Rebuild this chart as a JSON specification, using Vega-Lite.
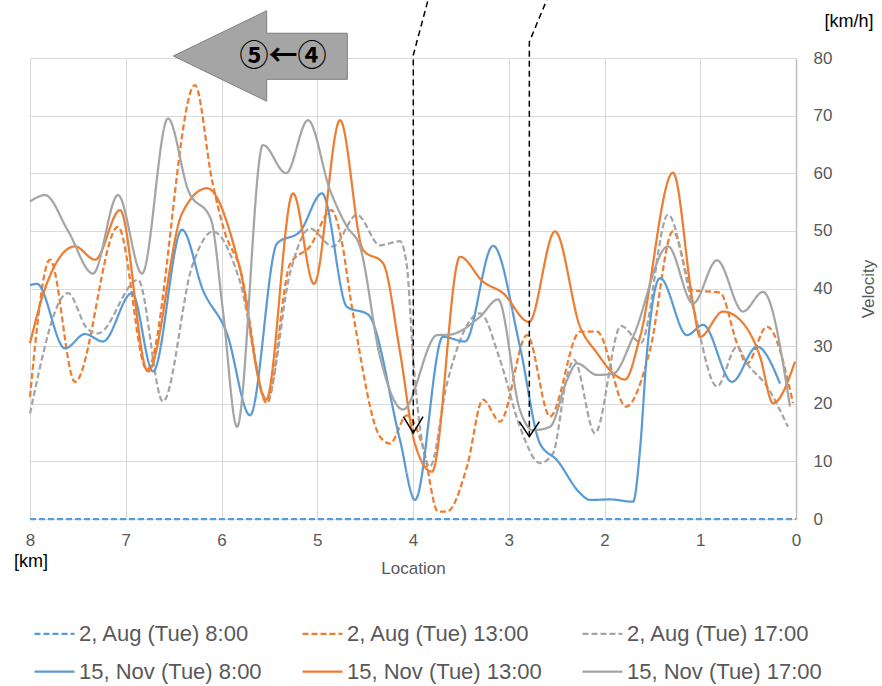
{
  "$schema": "https://vega.github.io/schema/vega-lite/v6.json",
  "width": 766,
  "height": 461,
  "autosize": "none",
  "padding": {"left": 30, "top": 58, "right": 86, "bottom": 167},
  "background": "white",
  "config": {"view": {"stroke": null}, "font": "Liberation Sans"},
  "datasets": {
    "series": [
      {"s": "2, Aug (Tue) 8:00", "x": 8.0, "v": 0},
      {"s": "2, Aug (Tue) 8:00", "x": 0.0, "v": 0},

      {"s": "2, Aug (Tue) 13:00", "x": 8.0, "v": 21.2},
      {"s": "2, Aug (Tue) 13:00", "x": 7.791, "v": 45.0},
      {"s": "2, Aug (Tue) 13:00", "x": 7.53, "v": 23.8},
      {"s": "2, Aug (Tue) 13:00", "x": 7.081, "v": 50.7},
      {"s": "2, Aug (Tue) 13:00", "x": 6.778, "v": 25.9},
      {"s": "2, Aug (Tue) 13:00", "x": 6.277, "v": 75.3},
      {"s": "2, Aug (Tue) 13:00", "x": 6.099, "v": 58.8},
      {"s": "2, Aug (Tue) 13:00", "x": 5.963, "v": 49.6},
      {"s": "2, Aug (Tue) 13:00", "x": 5.812, "v": 43.8},
      {"s": "2, Aug (Tue) 13:00", "x": 5.525, "v": 20.1},
      {"s": "2, Aug (Tue) 13:00", "x": 5.285, "v": 44.2},
      {"s": "2, Aug (Tue) 13:00", "x": 5.076, "v": 47.3},
      {"s": "2, Aug (Tue) 13:00", "x": 4.85, "v": 53.6},
      {"s": "2, Aug (Tue) 13:00", "x": 4.762, "v": 49.6},
      {"s": "2, Aug (Tue) 13:00", "x": 4.627, "v": 35.7},
      {"s": "2, Aug (Tue) 13:00", "x": 4.345, "v": 14.3},
      {"s": "2, Aug (Tue) 13:00", "x": 4.24, "v": 13.1},
      {"s": "2, Aug (Tue) 13:00", "x": 4.063, "v": 18.0},
      {"s": "2, Aug (Tue) 13:00", "x": 3.896, "v": 12.5},
      {"s": "2, Aug (Tue) 13:00", "x": 3.739, "v": 1.3},
      {"s": "2, Aug (Tue) 13:00", "x": 3.645, "v": 1.3},
      {"s": "2, Aug (Tue) 13:00", "x": 3.436, "v": 9.1},
      {"s": "2, Aug (Tue) 13:00", "x": 3.269, "v": 20.7},
      {"s": "2, Aug (Tue) 13:00", "x": 3.091, "v": 16.9},
      {"s": "2, Aug (Tue) 13:00", "x": 2.809, "v": 31.9},
      {"s": "2, Aug (Tue) 13:00", "x": 2.569, "v": 17.8},
      {"s": "2, Aug (Tue) 13:00", "x": 2.256, "v": 32.5},
      {"s": "2, Aug (Tue) 13:00", "x": 2.078, "v": 32.5},
      {"s": "2, Aug (Tue) 13:00", "x": 1.775, "v": 19.5},
      {"s": "2, Aug (Tue) 13:00", "x": 1.525, "v": 29.3},
      {"s": "2, Aug (Tue) 13:00", "x": 1.285, "v": 49.9},
      {"s": "2, Aug (Tue) 13:00", "x": 1.076, "v": 39.7},
      {"s": "2, Aug (Tue) 13:00", "x": 0.794, "v": 39.3},
      {"s": "2, Aug (Tue) 13:00", "x": 0.616, "v": 30.5},
      {"s": "2, Aug (Tue) 13:00", "x": 0.512, "v": 27.0},
      {"s": "2, Aug (Tue) 13:00", "x": 0.303, "v": 33.4},
      {"s": "2, Aug (Tue) 13:00", "x": 0.031, "v": 20.1},

      {"s": "2, Aug (Tue) 17:00", "x": 8.0, "v": 18.3},
      {"s": "2, Aug (Tue) 17:00", "x": 7.603, "v": 39.2},
      {"s": "2, Aug (Tue) 17:00", "x": 7.405, "v": 33.1},
      {"s": "2, Aug (Tue) 17:00", "x": 7.29, "v": 32.2},
      {"s": "2, Aug (Tue) 17:00", "x": 6.872, "v": 41.5},
      {"s": "2, Aug (Tue) 17:00", "x": 6.611, "v": 20.4},
      {"s": "2, Aug (Tue) 17:00", "x": 6.308, "v": 43.8},
      {"s": "2, Aug (Tue) 17:00", "x": 6.089, "v": 49.9},
      {"s": "2, Aug (Tue) 17:00", "x": 5.812, "v": 41.5},
      {"s": "2, Aug (Tue) 17:00", "x": 5.525, "v": 20.7},
      {"s": "2, Aug (Tue) 17:00", "x": 5.285, "v": 42.6},
      {"s": "2, Aug (Tue) 17:00", "x": 5.076, "v": 50.4},
      {"s": "2, Aug (Tue) 17:00", "x": 4.836, "v": 47.3},
      {"s": "2, Aug (Tue) 17:00", "x": 4.585, "v": 52.8},
      {"s": "2, Aug (Tue) 17:00", "x": 4.345, "v": 47.5},
      {"s": "2, Aug (Tue) 17:00", "x": 4.136, "v": 48.2},
      {"s": "2, Aug (Tue) 17:00", "x": 4.063, "v": 43.8},
      {"s": "2, Aug (Tue) 17:00", "x": 4.0, "v": 28.2},
      {"s": "2, Aug (Tue) 17:00", "x": 3.823, "v": 9.1},
      {"s": "2, Aug (Tue) 17:00", "x": 3.645, "v": 23.5},
      {"s": "2, Aug (Tue) 17:00", "x": 3.3, "v": 35.7},
      {"s": "2, Aug (Tue) 17:00", "x": 3.091, "v": 27.6},
      {"s": "2, Aug (Tue) 17:00", "x": 2.883, "v": 16.0},
      {"s": "2, Aug (Tue) 17:00", "x": 2.674, "v": 9.7},
      {"s": "2, Aug (Tue) 17:00", "x": 2.538, "v": 11.4},
      {"s": "2, Aug (Tue) 17:00", "x": 2.392, "v": 24.7},
      {"s": "2, Aug (Tue) 17:00", "x": 2.319, "v": 27.6},
      {"s": "2, Aug (Tue) 17:00", "x": 2.099, "v": 14.9},
      {"s": "2, Aug (Tue) 17:00", "x": 1.828, "v": 33.5},
      {"s": "2, Aug (Tue) 17:00", "x": 1.619, "v": 30.6},
      {"s": "2, Aug (Tue) 17:00", "x": 1.337, "v": 52.8},
      {"s": "2, Aug (Tue) 17:00", "x": 1.076, "v": 36.8},
      {"s": "2, Aug (Tue) 17:00", "x": 0.825, "v": 23.0},
      {"s": "2, Aug (Tue) 17:00", "x": 0.616, "v": 29.9},
      {"s": "2, Aug (Tue) 17:00", "x": 0.512, "v": 27.0},
      {"s": "2, Aug (Tue) 17:00", "x": 0.303, "v": 23.0},
      {"s": "2, Aug (Tue) 17:00", "x": 0.084, "v": 16.0},

      {"s": "15, Nov (Tue) 8:00", "x": 8.0, "v": 40.6},
      {"s": "15, Nov (Tue) 8:00", "x": 7.927, "v": 40.8},
      {"s": "15, Nov (Tue) 8:00", "x": 7.634, "v": 29.6},
      {"s": "15, Nov (Tue) 8:00", "x": 7.426, "v": 32.1},
      {"s": "15, Nov (Tue) 8:00", "x": 7.238, "v": 30.8},
      {"s": "15, Nov (Tue) 8:00", "x": 6.935, "v": 39.2},
      {"s": "15, Nov (Tue) 8:00", "x": 6.715, "v": 25.6},
      {"s": "15, Nov (Tue) 8:00", "x": 6.413, "v": 50.2},
      {"s": "15, Nov (Tue) 8:00", "x": 6.193, "v": 39.7},
      {"s": "15, Nov (Tue) 8:00", "x": 5.943, "v": 32.2},
      {"s": "15, Nov (Tue) 8:00", "x": 5.702, "v": 18.0},
      {"s": "15, Nov (Tue) 8:00", "x": 5.42, "v": 47.8},
      {"s": "15, Nov (Tue) 8:00", "x": 5.18, "v": 49.9},
      {"s": "15, Nov (Tue) 8:00", "x": 4.95, "v": 56.5},
      {"s": "15, Nov (Tue) 8:00", "x": 4.689, "v": 36.8},
      {"s": "15, Nov (Tue) 8:00", "x": 4.47, "v": 35.5},
      {"s": "15, Nov (Tue) 8:00", "x": 4.136, "v": 13.7},
      {"s": "15, Nov (Tue) 8:00", "x": 3.979, "v": 3.3},
      {"s": "15, Nov (Tue) 8:00", "x": 3.687, "v": 31.6},
      {"s": "15, Nov (Tue) 8:00", "x": 3.457, "v": 30.8},
      {"s": "15, Nov (Tue) 8:00", "x": 3.164, "v": 47.4},
      {"s": "15, Nov (Tue) 8:00", "x": 2.883, "v": 29.9},
      {"s": "15, Nov (Tue) 8:00", "x": 2.674, "v": 13.1},
      {"s": "15, Nov (Tue) 8:00", "x": 2.496, "v": 10.2},
      {"s": "15, Nov (Tue) 8:00", "x": 2.256, "v": 4.5},
      {"s": "15, Nov (Tue) 8:00", "x": 2.151, "v": 3.3},
      {"s": "15, Nov (Tue) 8:00", "x": 1.943, "v": 3.4},
      {"s": "15, Nov (Tue) 8:00", "x": 1.702, "v": 3.0},
      {"s": "15, Nov (Tue) 8:00", "x": 1.629, "v": 12.0},
      {"s": "15, Nov (Tue) 8:00", "x": 1.56, "v": 28.2},
      {"s": "15, Nov (Tue) 8:00", "x": 1.42, "v": 41.8},
      {"s": "15, Nov (Tue) 8:00", "x": 1.138, "v": 31.9},
      {"s": "15, Nov (Tue) 8:00", "x": 0.971, "v": 33.7},
      {"s": "15, Nov (Tue) 8:00", "x": 0.668, "v": 23.8},
      {"s": "15, Nov (Tue) 8:00", "x": 0.407, "v": 29.9},
      {"s": "15, Nov (Tue) 8:00", "x": 0.167, "v": 23.5},

      {"s": "15, Nov (Tue) 13:00", "x": 8.0, "v": 30.5},
      {"s": "15, Nov (Tue) 13:00", "x": 7.843, "v": 40.0},
      {"s": "15, Nov (Tue) 13:00", "x": 7.53, "v": 47.3},
      {"s": "15, Nov (Tue) 13:00", "x": 7.321, "v": 45.0},
      {"s": "15, Nov (Tue) 13:00", "x": 7.06, "v": 53.6},
      {"s": "15, Nov (Tue) 13:00", "x": 6.768, "v": 25.6},
      {"s": "15, Nov (Tue) 13:00", "x": 6.413, "v": 53.0},
      {"s": "15, Nov (Tue) 13:00", "x": 6.151, "v": 57.4},
      {"s": "15, Nov (Tue) 13:00", "x": 5.812, "v": 43.8},
      {"s": "15, Nov (Tue) 13:00", "x": 5.535, "v": 20.7},
      {"s": "15, Nov (Tue) 13:00", "x": 5.253, "v": 56.5},
      {"s": "15, Nov (Tue) 13:00", "x": 5.034, "v": 40.8},
      {"s": "15, Nov (Tue) 13:00", "x": 4.762, "v": 69.2},
      {"s": "15, Nov (Tue) 13:00", "x": 4.522, "v": 46.7},
      {"s": "15, Nov (Tue) 13:00", "x": 4.313, "v": 44.4},
      {"s": "15, Nov (Tue) 13:00", "x": 4.136, "v": 29.0},
      {"s": "15, Nov (Tue) 13:00", "x": 3.979, "v": 13.0},
      {"s": "15, Nov (Tue) 13:00", "x": 3.802, "v": 8.2},
      {"s": "15, Nov (Tue) 13:00", "x": 3.509, "v": 45.5},
      {"s": "15, Nov (Tue) 13:00", "x": 3.269, "v": 41.2},
      {"s": "15, Nov (Tue) 13:00", "x": 3.06, "v": 39.2},
      {"s": "15, Nov (Tue) 13:00", "x": 2.789, "v": 34.2},
      {"s": "15, Nov (Tue) 13:00", "x": 2.517, "v": 49.9},
      {"s": "15, Nov (Tue) 13:00", "x": 2.256, "v": 33.4},
      {"s": "15, Nov (Tue) 13:00", "x": 2.078, "v": 28.8},
      {"s": "15, Nov (Tue) 13:00", "x": 1.911, "v": 25.3},
      {"s": "15, Nov (Tue) 13:00", "x": 1.786, "v": 24.2},
      {"s": "15, Nov (Tue) 13:00", "x": 1.629, "v": 31.6},
      {"s": "15, Nov (Tue) 13:00", "x": 1.285, "v": 60.1},
      {"s": "15, Nov (Tue) 13:00", "x": 1.076, "v": 37.4},
      {"s": "15, Nov (Tue) 13:00", "x": 1.003, "v": 31.6},
      {"s": "15, Nov (Tue) 13:00", "x": 0.762, "v": 36.0},
      {"s": "15, Nov (Tue) 13:00", "x": 0.554, "v": 34.0},
      {"s": "15, Nov (Tue) 13:00", "x": 0.376, "v": 28.2},
      {"s": "15, Nov (Tue) 13:00", "x": 0.24, "v": 20.1},
      {"s": "15, Nov (Tue) 13:00", "x": 0.01, "v": 27.3},

      {"s": "15, Nov (Tue) 17:00", "x": 8.0, "v": 55.1},
      {"s": "15, Nov (Tue) 17:00", "x": 7.843, "v": 56.2},
      {"s": "15, Nov (Tue) 17:00", "x": 7.603, "v": 50.0},
      {"s": "15, Nov (Tue) 17:00", "x": 7.342, "v": 42.6},
      {"s": "15, Nov (Tue) 17:00", "x": 7.081, "v": 56.2},
      {"s": "15, Nov (Tue) 17:00", "x": 6.83, "v": 42.6},
      {"s": "15, Nov (Tue) 17:00", "x": 6.559, "v": 69.5},
      {"s": "15, Nov (Tue) 17:00", "x": 6.347, "v": 57.0},
      {"s": "15, Nov (Tue) 17:00", "x": 6.11, "v": 52.0},
      {"s": "15, Nov (Tue) 17:00", "x": 5.984, "v": 36.0},
      {"s": "15, Nov (Tue) 17:00", "x": 5.838, "v": 16.0},
      {"s": "15, Nov (Tue) 17:00", "x": 5.567, "v": 64.9},
      {"s": "15, Nov (Tue) 17:00", "x": 5.326, "v": 60.0},
      {"s": "15, Nov (Tue) 17:00", "x": 5.097, "v": 69.2},
      {"s": "15, Nov (Tue) 17:00", "x": 4.867, "v": 57.1},
      {"s": "15, Nov (Tue) 17:00", "x": 4.689, "v": 50.7},
      {"s": "15, Nov (Tue) 17:00", "x": 4.554, "v": 47.3},
      {"s": "15, Nov (Tue) 17:00", "x": 4.345, "v": 28.2},
      {"s": "15, Nov (Tue) 17:00", "x": 4.104, "v": 19.0},
      {"s": "15, Nov (Tue) 17:00", "x": 3.749, "v": 31.9},
      {"s": "15, Nov (Tue) 17:00", "x": 3.614, "v": 32.0},
      {"s": "15, Nov (Tue) 17:00", "x": 3.3, "v": 35.1},
      {"s": "15, Nov (Tue) 17:00", "x": 3.112, "v": 38.1},
      {"s": "15, Nov (Tue) 17:00", "x": 2.883, "v": 18.9},
      {"s": "15, Nov (Tue) 17:00", "x": 2.747, "v": 15.4},
      {"s": "15, Nov (Tue) 17:00", "x": 2.569, "v": 16.0},
      {"s": "15, Nov (Tue) 17:00", "x": 2.392, "v": 24.1},
      {"s": "15, Nov (Tue) 17:00", "x": 2.287, "v": 27.0},
      {"s": "15, Nov (Tue) 17:00", "x": 2.078, "v": 25.0},
      {"s": "15, Nov (Tue) 17:00", "x": 1.911, "v": 25.2},
      {"s": "15, Nov (Tue) 17:00", "x": 1.702, "v": 31.6},
      {"s": "15, Nov (Tue) 17:00", "x": 1.337, "v": 47.3},
      {"s": "15, Nov (Tue) 17:00", "x": 1.076, "v": 37.4},
      {"s": "15, Nov (Tue) 17:00", "x": 0.825, "v": 44.9},
      {"s": "15, Nov (Tue) 17:00", "x": 0.554, "v": 36.0},
      {"s": "15, Nov (Tue) 17:00", "x": 0.345, "v": 39.4},
      {"s": "15, Nov (Tue) 17:00", "x": 0.063, "v": 19.5}
    ],
    "guides": [
      {"g": "a", "i": 0, "x": 3.82, "v": 91.5},
      {"g": "a", "i": 1, "x": 3.997, "v": 80.5},
      {"g": "a", "i": 2, "x": 3.997, "v": 14.9},
      {"g": "b", "i": 0, "x": 2.58, "v": 91.0},
      {"g": "b", "i": 1, "x": 2.785, "v": 82.8},
      {"g": "b", "i": 2, "x": 2.785, "v": 14.3}
    ],
    "heads": [
      {"g": "a", "i": 0, "x": 4.1, "v": 17.75},
      {"g": "a", "i": 1, "x": 3.997, "v": 14.9},
      {"g": "a", "i": 2, "x": 3.895, "v": 17.75},
      {"g": "b", "i": 0, "x": 2.89, "v": 16.9},
      {"g": "b", "i": 1, "x": 2.785, "v": 14.3},
      {"g": "b", "i": 2, "x": 2.68, "v": 16.9}
    ],
    "bigArrow": [
      {"i": 0, "x": 6.503, "v": 80.35},
      {"i": 1, "x": 5.528, "v": 88.2},
      {"i": 2, "x": 5.528, "v": 84.3},
      {"i": 3, "x": 4.686, "v": 84.3},
      {"i": 4, "x": 4.686, "v": 76.3},
      {"i": 5, "x": 5.528, "v": 76.3},
      {"i": 6, "x": 5.528, "v": 72.5},
      {"i": 7, "x": 6.503, "v": 80.35}
    ],
    "labels": [
      {"t": "[km]", "x": 7.99, "v": -7.5},
      {"t": "[km/h]", "x": -0.553, "v": 86.3}
    ],
    "arrowText": [
      {"t": "⑤←④", "x": 5.358, "v": 80.2}
    ]
  },
  "layer": [
    {
      "data": {"name": "series"},
      "mark": {"type": "line", "interpolate": "monotone", "strokeWidth": 2.25},
      "encoding": {
        "x": {
          "field": "x", "type": "quantitative",
          "scale": {"domain": [0, 8], "reverse": true, "nice": false, "zero": false},
          "axis": {
            "values": [0, 1, 2, 3, 4, 5, 6, 7, 8], "format": "d", "title": "Location",
            "grid": true, "gridColor": "#d9d9d9", "gridWidth": 1, "ticks": false, "domain": false,
            "labelFlush": false, "labelFontSize": 17, "labelColor": "#595959", "labelPadding": 13,
            "titleFontSize": 17, "titleColor": "#595959", "titleFontWeight": "normal", "titlePadding": 12
          }
        },
        "y": {
          "field": "v", "type": "quantitative",
          "scale": {"domain": [0, 80], "nice": false},
          "axis": {
            "orient": "right", "values": [0, 10, 20, 30, 40, 50, 60, 70, 80], "title": "Velocity",
            "grid": true, "gridColor": "#d9d9d9", "gridWidth": 1, "ticks": false,
            "domain": true, "domainColor": "#bfbfbf", "domainWidth": 1.5,
            "labelFontSize": 17, "labelColor": "#595959", "labelPadding": 17,
            "titleFontSize": 17, "titleColor": "#595959", "titleFontWeight": "normal",
            "titleAngle": 270, "titlePadding": 46
          }
        },
        "color": {
          "field": "s", "type": "nominal",
          "scale": {
            "domain": ["2, Aug (Tue) 8:00", "2, Aug (Tue) 13:00", "2, Aug (Tue) 17:00", "15, Nov (Tue) 8:00", "15, Nov (Tue) 13:00", "15, Nov (Tue) 17:00"],
            "range": ["#5b9bd5", "#ed7d31", "#a5a5a5", "#5b9bd5", "#ed7d31", "#a5a5a5"]
          },
          "legend": {
            "title": null, "orient": "none", "legendX": 3, "legendY": 554, "direction": "horizontal", "columns": 3,
            "symbolType": "stroke", "symbolSize": 1600, "symbolStrokeWidth": 2.25,
            "labelFontSize": 22, "labelColor": "#595959", "labelOffset": 3, "labelLimit": 400,
            "columnPadding": 36, "rowPadding": 5
          }
        },
        "strokeDash": {
          "field": "s", "type": "nominal",
          "scale": {
            "domain": ["2, Aug (Tue) 8:00", "2, Aug (Tue) 13:00", "2, Aug (Tue) 17:00", "15, Nov (Tue) 8:00", "15, Nov (Tue) 13:00", "15, Nov (Tue) 17:00"],
            "range": [[6, 3], [6, 3], [6, 3], [1, 0], [1, 0], [1, 0]]
          },
          "legend": {
            "title": null, "orient": "none", "legendX": 3, "legendY": 554, "direction": "horizontal", "columns": 3,
            "symbolType": "stroke", "symbolSize": 1600, "symbolStrokeWidth": 2.25,
            "labelFontSize": 22, "labelColor": "#595959", "labelOffset": 3, "labelLimit": 400,
            "columnPadding": 36, "rowPadding": 5
          }
        }
      }
    },
    {
      "data": {"name": "guides"},
      "mark": {"type": "line", "color": "black", "strokeWidth": 1.5, "strokeDash": [6, 4]},
      "encoding": {
        "x": {"field": "x", "type": "quantitative"},
        "y": {"field": "v", "type": "quantitative"},
        "detail": {"field": "g"},
        "order": {"field": "i"}
      }
    },
    {
      "data": {"name": "heads"},
      "mark": {"type": "line", "color": "black", "strokeWidth": 1.5},
      "encoding": {
        "x": {"field": "x", "type": "quantitative"},
        "y": {"field": "v", "type": "quantitative"},
        "detail": {"field": "g"},
        "order": {"field": "i"}
      }
    },
    {
      "data": {"name": "bigArrow"},
      "mark": {"type": "line", "fill": "#a5a5a5", "stroke": "#7f7f7f", "strokeWidth": 1},
      "encoding": {
        "x": {"field": "x", "type": "quantitative"},
        "y": {"field": "v", "type": "quantitative"},
        "order": {"field": "i"}
      }
    },
    {
      "data": {"name": "arrowText"},
      "mark": {"type": "text", "font": "Noto Sans CJK JP", "fontWeight": "bold", "fontSize": 29, "color": "black", "align": "center", "baseline": "middle"},
      "encoding": {
        "x": {"field": "x", "type": "quantitative"},
        "y": {"field": "v", "type": "quantitative"},
        "text": {"field": "t"}
      }
    },
    {
      "data": {"name": "labels"},
      "mark": {"type": "text", "fontSize": 18, "color": "black", "align": "center", "baseline": "middle"},
      "encoding": {
        "x": {"field": "x", "type": "quantitative"},
        "y": {"field": "v", "type": "quantitative"},
        "text": {"field": "t"}
      }
    }
  ]
}
